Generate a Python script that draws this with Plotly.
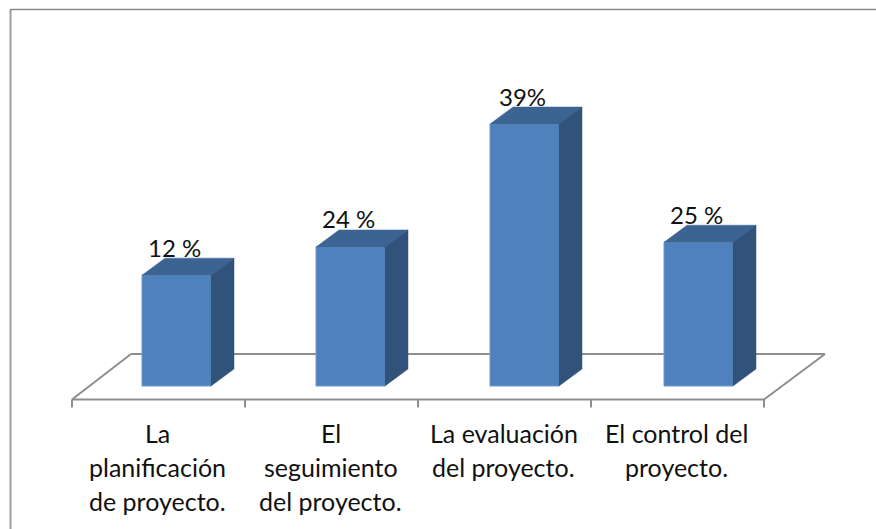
import plotly.graph_objects as go

# Data
category_lines = [
    ["La", "planificación", "de proyecto."],
    ["El", "seguimiento", "del proyecto."],
    ["La evaluación", "del proyecto."],
    ["El control del", "proyecto."],
]
bar_heights = [16.5, 20.7, 39.0, 21.4]
value_labels = ["12 %", "24 %", "39%", "25 %"]

# Pixel calibration of the axes
W, H = 876, 529
PX_X = 174.0            # pixels per category
X0_PX = 176.5           # pixel of first bar centre
PX_Y = 262 / 39.0       # pixels per value unit
Y0_PX = 386.0           # pixel of the value zero


def ux(px):
    return (px - X0_PX) / PX_X


def uy(py):
    return (Y0_PX - py) / PX_Y


BAR_W = 69 / PX_X
DX = 23 / PX_X
DY = 17 / PX_Y
FRONT = "#4F81BD"
TOP = "#3B6492"
SIDE = "#31527A"
GREY = "#8E8E8E"
CAT_FONT = dict(family="Lato, Carlito, sans-serif", size=25, color="#111111")
VAL_FONT = dict(family="Lato, Carlito, sans-serif", size=24, color="#111111")

xs = list(range(len(bar_heights)))
fig = go.Figure()
fig.add_trace(go.Bar(
    x=xs, y=bar_heights, width=BAR_W, marker=dict(color=FRONT, line=dict(color="#6E9AD0", width=1)),
    hoverinfo="skip", showlegend=False,
))

for x, v in zip(xs, bar_heights):
    l, r = x - BAR_W / 2, x + BAR_W / 2
    fig.add_trace(go.Scatter(
        x=[l, r, r + DX, l + DX, l], y=[v, v, v + DY, v + DY, v], mode="lines", fill="toself",
        fillcolor=TOP, line=dict(color=TOP, width=0.5), hoverinfo="skip", showlegend=False,
    ))
    fig.add_trace(go.Scatter(
        x=[r, r + DX, r + DX, r, r], y=[0, DY, v + DY, v, 0], mode="lines", fill="toself",
        fillcolor=SIDE, line=dict(color=SIDE, width=0.5), hoverinfo="skip", showlegend=False,
    ))

shapes = []
line = dict(color=GREY, width=2)
# floor outline
floor = [(72, 399.5), (764, 399.5), (825, 354), (131, 354), (72, 399.5)]
for (a, b), (c, d) in zip(floor[:-1], floor[1:]):
    shapes.append(dict(type="line", xref="x", yref="y", x0=ux(a), y0=uy(b), x1=ux(c), y1=uy(d),
                       line=line, layer="below"))
# category ticks
tick_step = (764 - 72) / len(bar_heights)
for i in range(len(bar_heights) + 1):
    p = 72 + i * tick_step
    shapes.append(dict(type="line", xref="x", yref="y", x0=ux(p), y0=uy(399.5), x1=ux(p), y1=uy(407.5),
                       line=line, layer="below"))
# chart frame (left and top edges visible)
shapes.append(dict(type="line", xref="x", yref="y", x0=ux(10.5), y0=uy(9.5), x1=ux(10.5), y1=uy(529),
                   line=dict(color="#A0A0A0", width=2), layer="below"))
shapes.append(dict(type="line", xref="x", yref="y", x0=ux(10), y0=uy(9.5), x1=ux(876), y1=uy(9.5),
                   line=dict(color="#8A8A8A", width=1.5), layer="below"))

annotations = []
for x, v, t in zip(xs, bar_heights, value_labels):
    annotations.append(dict(x=x, y=v, xref="x", yref="y", text=t, showarrow=False, font=VAL_FONT,
                            xshift=-2, yshift=28))
for i, lines in enumerate(category_lines):
    cx = 72 + (i + 0.5) * tick_step
    for j, t in enumerate(lines):
        annotations.append(dict(x=ux(cx), y=uy(433 + 34 * j), xref="x", yref="y", text=t, showarrow=False,
                                font=CAT_FONT, xshift=-1))

fig.update_layout(
    width=W, height=H, margin=dict(l=0, r=0, t=0, b=0), paper_bgcolor="white", plot_bgcolor="white",
    xaxis=dict(range=[ux(0), ux(W)], visible=False, fixedrange=True),
    yaxis=dict(range=[uy(H), uy(0)], visible=False, fixedrange=True),
    shapes=shapes, annotations=annotations, showlegend=False,
)

fig.write_html("out.html", config={"displayModeBar": False},
               post_script="document.body.style.margin='0';document.body.style.overflow='hidden';")
